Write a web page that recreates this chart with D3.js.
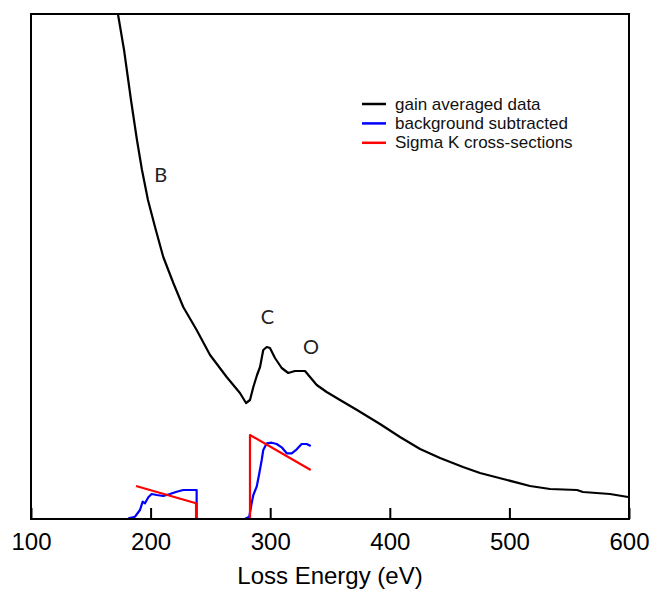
<!DOCTYPE html>
<html>
<head>
<meta charset="utf-8">
<script src="https://cdn.jsdelivr.net/npm/d3@7"></script>
<style>
  body { margin: 0; background: #fff; }
  svg { display: block; }
</style>
</head>
<body>
<script>
// Loss energy (eV) / intensity (arb. units)
var gainEnergy = [169.2, 172.7, 177.8, 183.6, 188.6, 192.8, 197.8, 203.7, 210.6, 219.0,
  227.3, 238.5, 249.7, 263.6, 274.7, 279.8, 283.1, 285.9, 289.0, 291.5, 294.2, 297.1,
  299.8, 304.0, 309.6, 315.1, 320.7, 329.1, 333.3, 338.9, 347.2, 358.4, 372.6, 391.8,
  408.5, 425.3, 442.0, 461.2, 475.4, 498.0, 517.2, 534.0, 556.5, 561.5, 584.1, 599.2];
var gainValue = [1060, 1010, 938, 838, 758, 698, 638, 584, 524, 472,
  424, 378, 328, 284, 252, 232, 238, 264, 288, 304, 338, 344,
  342, 322, 302, 292, 296, 296, 284, 268, 254, 238, 218, 190,
  164, 140, 122, 104, 92, 78, 66, 60, 58, 54, 50, 44];

var bgEnergy = [181.4, 187.0, 191.1, 193.4, 195.3, 198.1, 200.9, 205.1, 210.6, 216.2,
  221.8, 227.3, 238.5, 238.5, 278.9, 282.5, 284.5, 285.9, 288.7, 290.9, 292.9, 294.2,
  297.1, 301.3, 305.4, 309.6, 313.8, 318.0, 322.2, 326.3, 330.5, 333.9];
var bgValue = [1.4, 4.6, 18, 34.6, 31.4, 43.4, 50, 48, 46, 50,
  54.6, 58, 58, 0, 0, 4.6, 31.4, 48, 64.6, 91.4, 118, 138,
  151.4, 152.6, 150, 143.4, 131.4, 131.4, 139.4, 150, 150, 146];

var sigmaEnergy = [187.8, 238.0, 238.0, 283.1, 283.1, 333.9];
var sigmaValue = [66, 31.4, 0, 0, 168, 98];

var xTicks = [100, 200, 300, 400, 500, 600];
var seriesNames = ['gain averaged data', 'background subtracted', 'Sigma K cross-sections'];
var seriesColors = ['#000000', '#0000ff', '#ff0000'];

var peakLabels = ['B', 'C', 'O'];
var peakEnergy = [208.4, 297.7, 334.1];
var peakValue = [675, 390, 330];

var width = 654,
  height = 590;

var svg = d3.select('body')
  .append('svg')
  .attr('width', width)
  .attr('height', height);

var x = d3.scaleLinear().domain([100, 600]).range([31, 629]);
var y = d3.scaleLinear().domain([0, 1010]).range([519, 14]);

svg.append('clipPath')
  .attr('id', 'plotclip')
  .append('rect')
  .attr('x', 31).attr('y', 14)
  .attr('width', 598).attr('height', 505);

var line = d3.line()
  .x(function(d) { return x(d[0]); })
  .y(function(d) { return y(d[1]); });

var series = [
  d3.zip(gainEnergy, gainValue),
  d3.zip(bgEnergy, bgValue),
  d3.zip(sigmaEnergy, sigmaValue)
];

var plot = svg.append('g').attr('clip-path', 'url(#plotclip)');

plot.selectAll('path')
  .data(series)
  .enter()
  .append('path')
  .attr('fill', 'none')
  .attr('stroke', function(d, i) { return seriesColors[i]; })
  .attr('stroke-width', 2.2)
  .attr('stroke-linejoin', 'round')
  .attr('d', line);

// x axis with inward ticks
var xAxis = d3.axisBottom(x)
  .tickValues(xTicks)
  .tickFormat(d3.format('d'))
  .tickSizeInner(-11)
  .tickSizeOuter(0)
  .tickPadding(14);

var gx = svg.append('g')
  .attr('transform', 'translate(0,' + y(0) + ')')
  .call(xAxis);
gx.select('.domain').remove();
gx.selectAll('.tick line').attr('stroke', '#000').attr('stroke-width', 2);
gx.selectAll('.tick text')
  .attr('font-family', 'Liberation Sans, Arial, sans-serif')
  .attr('font-size', 24)
  .attr('fill', '#000');

// frame
svg.append('rect')
  .attr('x', x(100)).attr('y', y(1010))
  .attr('width', x(600) - x(100))
  .attr('height', y(0) - y(1010))
  .attr('fill', 'none')
  .attr('stroke', '#000')
  .attr('stroke-width', 2);

svg.append('text')
  .attr('x', (x(100) + x(600)) / 2)
  .attr('y', 584)
  .attr('text-anchor', 'middle')
  .attr('font-family', 'Liberation Sans, Arial, sans-serif')
  .attr('font-size', 24)
  .text('Loss Energy (eV)');

// peak labels
svg.selectAll('.peak')
  .data(peakLabels)
  .enter()
  .append('text')
  .attr('class', 'peak')
  .attr('x', function(d, i) { return x(peakEnergy[i]); })
  .attr('y', function(d, i) { return y(peakValue[i]); })
  .attr('text-anchor', 'middle')
  .attr('font-family', 'Lato, sans-serif')
  .attr('font-size', 20)
  .attr('fill', '#222')
  .text(function(d) { return d; });

// legend
var legend = svg.append('g').attr('transform', 'translate(362,104)');
var items = legend.selectAll('g')
  .data(seriesNames)
  .enter()
  .append('g')
  .attr('transform', function(d, i) { return 'translate(0,' + (i * 19.4) + ')'; });
items.append('line')
  .attr('x1', 0).attr('x2', 24)
  .attr('stroke', function(d, i) { return seriesColors[i]; })
  .attr('stroke-width', 2.5);
items.append('text')
  .attr('x', 33)
  .attr('y', 5.5)
  .attr('font-family', 'Liberation Sans, Arial, sans-serif')
  .attr('font-size', 17)
  .attr('fill', '#111')
  .text(function(d) { return d; });
</script>
</body>
</html>
